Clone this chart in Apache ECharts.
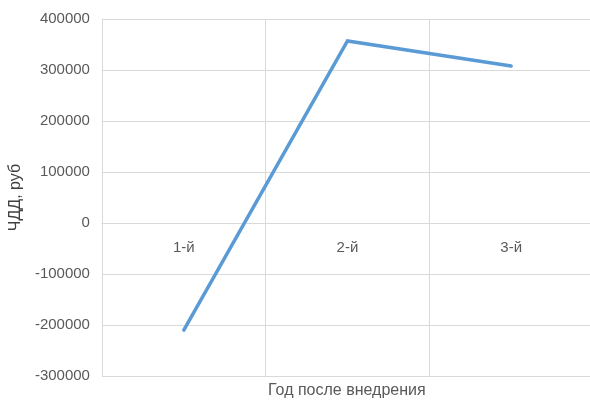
<!DOCTYPE html>
<html>
<head>
<meta charset="utf-8">
<script src="https://cdn.jsdelivr.net/npm/echarts@6/dist/echarts.min.js"></script>
<style>
  html, body { margin: 0; padding: 0; background: #fff; overflow: hidden; }
  /* plot runs a few pixels past the right edge of the window */
  #chart { width: 593px; height: 403px; }
</style>
</head>
<body>
<div id="chart"></div>
<script>
// Net discounted income by year after implementation
const categories = ['1-й', '2-й', '3-й'];
const ndiValues = [-210000, 357000, 308000];
const yMin = -300000;
const yMax = 400000;
const yStep = 100000;
const xAxisTitle = 'Год после внедрения';
const yAxisTitle = 'ЧДД, руб';

const chart = echarts.init(document.getElementById('chart'));
const fontFamily = '"Liberation Sans", Arial, sans-serif';
const gridColor = '#d9d9d9';
const labelColor = '#595959';

chart.setOption({
  animation: false,
  backgroundColor: '#ffffff',
  grid: { left: 100, right: 0, top: 19, bottom: 27 },
  xAxis: {
    type: 'category',
    data: categories,
    boundaryGap: true,
    axisLine: { show: true, lineStyle: { color: gridColor, width: 1 } },
    axisTick: { show: false },
    // category labels sit just under the zero line
    axisLabel: { color: labelColor, fontSize: 15, fontFamily: fontFamily, margin: -136 },
    splitLine: { show: true, lineStyle: { color: gridColor, width: 1 } }
  },
  yAxis: {
    type: 'value',
    min: yMin,
    max: yMax,
    interval: yStep,
    name: yAxisTitle,
    nameLocation: 'middle',
    nameGap: 68,
    nameTextStyle: { color: '#404040', fontSize: 16, fontFamily: fontFamily },
    axisLine: { show: true, lineStyle: { color: gridColor, width: 1 } },
    axisTick: { show: false },
    axisLabel: {
      color: labelColor, fontSize: 15, fontFamily: fontFamily, margin: 12,
      formatter: (v) => String(v)
    },
    splitLine: { show: true, lineStyle: { color: gridColor, width: 1 } }
  },
  graphic: [{
    type: 'text',
    left: 268,
    top: 383,
    style: { text: xAxisTitle, fill: labelColor, fontSize: 16, fontFamily: fontFamily }
  }],
  series: [{
    type: 'line',
    data: ndiValues,
    showSymbol: false,
    symbol: 'none',
    lineStyle: { color: '#5b9bd5', width: 3.5, cap: 'round', join: 'miter' },
    itemStyle: { color: '#5b9bd5' }
  }]
});
</script>
</body>
</html>
